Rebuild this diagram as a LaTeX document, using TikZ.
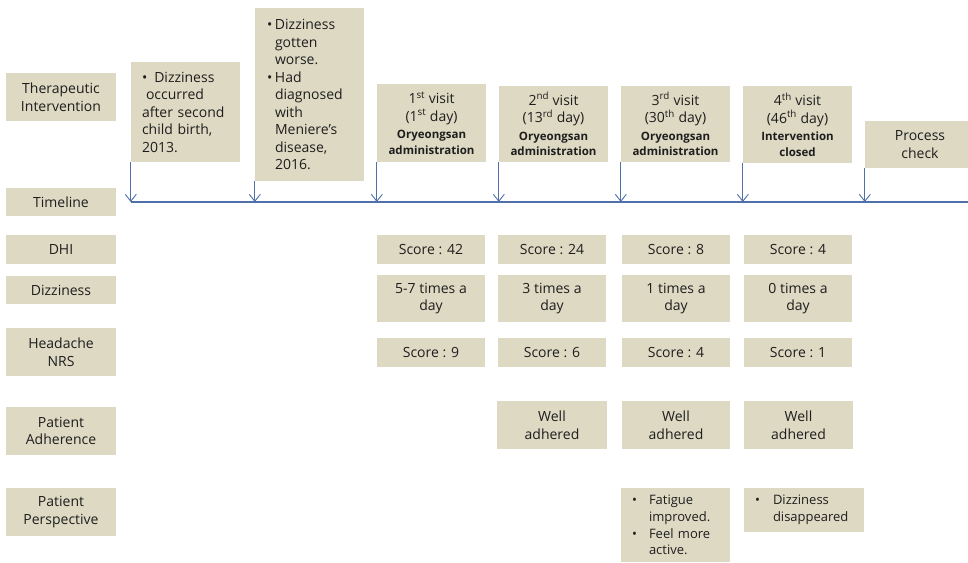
\documentclass[tikz,border=0pt]{standalone}
\usepackage{fontspec}
\setmainfont{Open Sans}
\usetikzlibrary{arrows.meta}
\definecolor{boxc}{RGB}{221,217,195}
\definecolor{txt}{RGB}{30,30,30}
\definecolor{arrc}{RGB}{79,112,170}
\newcommand\fsz[2]{\fontsize{#1}{#2}\selectfont}
\newcommand\bx[7]{\node[box, minimum width=#4, minimum height=#5, #6] (#1) at (#2,#3) {#7};}
\newcommand\bfl[1]{{\bfseries\fsz{11.5}{14}#1}}
\begin{document}
\begin{tikzpicture}[x=1pt,y=-1pt,
  box/.style={fill=boxc, text=txt, inner sep=0pt, align=center, font=\fsz{14}{17.5}},
  lbox/.style={align=left, inner xsep=11pt},
  arr/.style={draw=arrc, line width=1.1pt, -{Straight Barb[length=7pt,width=11pt,line width=0.9pt]}},
  tline/.style={draw=arrc, line width=1.3pt}]
\useasboundingbox (0,0) rectangle (968,562);
\clip (0,0) rectangle (968,562);
% left labels
\bx{l1}{61}{97}{110}{48}{}{Therapeutic\\Intervention}
\bx{l2}{61}{202}{110}{28}{}{Timeline}
\bx{l3}{61}{249.5}{110}{29}{}{DHI}
\bx{l4}{61}{290}{110}{28}{}{Dizziness}
\bx{l5}{61}{352}{110}{48}{}{Headache\\NRS}
\bx{l6}{61}{431}{110}{48}{}{Patient\\Adherence}
\bx{l7}{61}{512}{110}{48}{}{Patient\\Perspective}
% top boxes
\bx{t1}{185.5}{112}{109}{100}{lbox, text width=87pt}{\textbullet\ \,Dizziness\\\hspace*{4pt}occurred\\after second\\child birth,\\2013.}
\bx{t2}{309.5}{94.5}{109}{173}{lbox, inner xsep=12pt, text width=85pt}{\makebox[8pt][l]{\textbullet}Dizziness\\\hspace*{8pt}gotten\\\hspace*{8pt}worse.\\\makebox[8pt][l]{\textbullet}Had\\\hspace*{8pt}diagnosed\\\hspace*{8pt}with\\\hspace*{8pt}Meniere’s\\\hspace*{8pt}disease,\\\hspace*{8pt}2016.}
\bx{t3}{431.5}{123}{109}{78}{}{1\textsuperscript{st} visit\\(1\textsuperscript{st} day)\\\bfl{Oryeongsan}\\[-2pt]\bfl{administration}}
\bx{t4}{553.5}{124}{109}{76}{}{2\textsuperscript{nd} visit\\(13\textsuperscript{rd} day)\\\bfl{Oryeongsan}\\[-2pt]\bfl{administration}}
\bx{t5}{675.5}{124}{109}{76}{}{3\textsuperscript{rd} visit\\(30\textsuperscript{th} day)\\\bfl{Oryeongsan}\\[-2pt]\bfl{administration}}
\bx{t6}{797.5}{124.5}{109}{77}{}{4\textsuperscript{th} visit\\(46\textsuperscript{th} day)\\\bfl{Intervention}\\[-2pt]\bfl{closed}}
\bx{t7}{920}{144.5}{110}{47}{}{Process\\check}
% timeline
\coordinate (tla) at (131,202);
\coordinate (tlb) at (968,202);
\draw[tline] (tla) -- (tlb);
\foreach \n in {t1,t2,t3,t4,t5,t6,t7}{
  \draw[arr] (\n.south west) -- (\n.south west |- tla);
}
% DHI
\bx{d1}{431}{249.5}{108}{29}{}{Score : 42}
\bx{d2}{552}{249.5}{108}{29}{}{Score : 24}
\bx{d3}{676}{249.5}{108}{29}{}{Score : 8}
\bx{d4}{798}{249.5}{108}{29}{}{Score : 4}
% Dizziness
\bx{z1}{431}{298.5}{108}{47}{}{5-7 times a\\day}
\bx{z2}{552}{298.5}{108}{47}{}{3 times a\\day}
\bx{z3}{676}{298.5}{108}{47}{}{1 times a\\day}
\bx{z4}{798}{298.5}{108}{47}{}{0 times a\\day}
% NRS
\bx{n1}{431}{352.5}{108}{29}{}{Score : 9}
\bx{n2}{552}{352.5}{108}{29}{}{Score : 6}
\bx{n3}{676}{352.5}{108}{29}{}{Score : 4}
\bx{n4}{798}{352.5}{108}{29}{}{Score : 1}
% Adherence
\bx{a2}{552}{425}{110}{48}{}{Well\\adhered}
\bx{a3}{676}{425}{108}{48}{}{Well\\adhered}
\bx{a4}{798.5}{425}{109}{48}{}{Well\\adhered}
% Perspective
\bx{p3}{675.5}{525}{109}{74}{lbox, text width=87pt, font=\fsz{13}{16.7}}{\makebox[17pt][l]{\textbullet}Fatigue\\\hspace*{17pt}improved.\\\makebox[17pt][l]{\textbullet}Feel more\\\hspace*{17pt}active.}
\bx{p4}{804}{510}{120}{44}{lbox, text width=98pt, font=\fsz{13}{16.7}}{\makebox[18pt][l]{\textbullet}Dizziness\\\hspace*{18pt}\mbox{disappeared}}
\end{tikzpicture}
\end{document}
